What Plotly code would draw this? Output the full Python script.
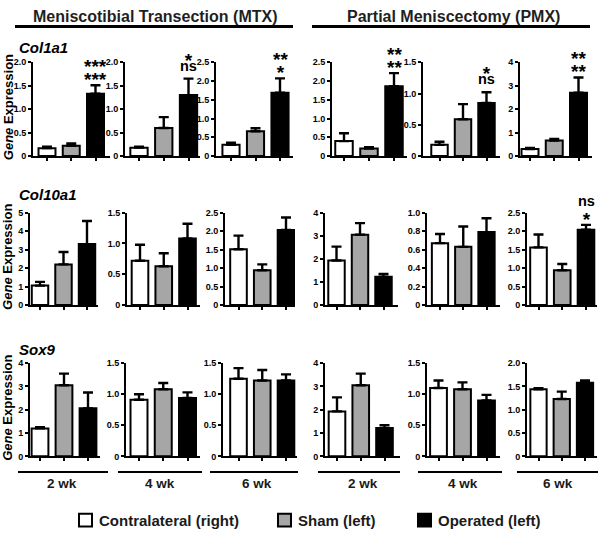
import plotly.graph_objects as go

groups = ["Contralateral (right)", "Sham (left)", "Operated (left)"]
weeks = ["2 wk", "4 wk", "6 wk", "2 wk", "4 wk", "6 wk"]
procedures = ["Meniscotibial Transection (MTX)", "Partial Meniscectomy (PMX)"]
genes = ["Col1a1", "Col10a1", "Sox9"]

# panel order: MTX 2/4/6 wk, PMX 2/4/6 wk ; values per group (contra, sham, operated)
col1a1_mean = [[0.17, 0.22, 1.33], [0.18, 0.60, 1.30], [0.30, 0.66, 1.69],
               [0.40, 0.20, 1.86], [0.18, 0.59, 0.85], [0.30, 0.66, 2.70]]
col1a1_err = [[0.03, 0.05, 0.18], [0.02, 0.23, 0.35], [0.06, 0.08, 0.38],
              [0.21, 0.04, 0.35], [0.05, 0.24, 0.17], [0.05, 0.07, 0.65]]
col10a1_mean = [[1.05, 2.20, 3.30], [0.72, 0.63, 1.08], [1.51, 0.94, 2.03],
                [1.93, 3.05, 1.22], [0.67, 0.63, 0.79], [1.56, 0.94, 2.04]]
col10a1_err = [[0.20, 0.67, 1.25], [0.26, 0.21, 0.24], [0.37, 0.16, 0.34],
               [0.60, 0.50, 0.12], [0.10, 0.22, 0.15], [0.35, 0.17, 0.13]]
sox9_mean = [[1.20, 3.05, 2.06], [0.91, 1.08, 0.94], [1.25, 1.22, 1.22],
             [1.93, 3.05, 1.22], [1.10, 1.08, 0.90], [1.44, 1.23, 1.58]]
sox9_err = [[0.05, 0.50, 0.68], [0.09, 0.10, 0.09], [0.17, 0.17, 0.10],
            [0.60, 0.50, 0.12], [0.12, 0.11, 0.09], [0.02, 0.16, 0.05]]

col1a1_ticks = [["0", "0.5", "1.0", "1.5", "2.0"], ["0", "0.5", "1.0", "1.5", "2.0"],
                ["0", "0.5", "1.0", "1.5", "2.0", "2.5"], ["0", "0.5", "1.0", "1.5", "2.0", "2.5"],
                ["0", "0.5", "1.0", "1.5"], ["0", "1", "2", "3", "4"]]
col10a1_ticks = [["0", "1", "2", "3", "4", "5"], ["0", "0.5", "1.0", "1.5"],
                 ["0", "0.5", "1.0", "1.5", "2.0", "2.5"], ["0", "1", "2", "3", "4"],
                 ["0", "0.2", "0.4", "0.6", "0.8", "1.0"], ["0", "0.5", "1.0", "1.5", "2.0", "2.5"]]
sox9_ticks = [["0", "1", "2", "3", "4"], ["0", "0.5", "1.0", "1.5"], ["0", "0.5", "1.0", "1.5"],
              ["0", "1", "2", "3", "4"], ["0", "0.5", "1.0", "1.5"], ["0", "0.5", "1.0", "1.5", "2.0"]]

# significance marks above the operated bar (upper line, lower line)
col1a1_sig = [["***", "***"], ["*", "ns"], ["**", "*"], ["**", "**"], ["*", "ns"], ["**", "**"]]
col10a1_sig = [None, None, None, None, None, ["ns", "*"]]
sox9_sig = [None, None, None, None, None, None]

means = [col1a1_mean, col10a1_mean, sox9_mean]
errs = [col1a1_err, col10a1_err, sox9_err]
ticks = [col1a1_ticks, col10a1_ticks, sox9_ticks]
sigs = [col1a1_sig, col10a1_sig, sox9_sig]

# ---------------- layout geometry (pixels) ----------------
W, H = 600, 533
FONT = "Liberation Sans"
bar_colors = ["white", "#a6a6a6", "black"]
STAR_PX = 19
NS_PX = 14.5


def fx(px):
    return px / W


def fy(py):
    return 1 - py / H


row_top = [58.3, 211.7, 365]
row_bot = [154, 305.7, 460]
# (axis start, axis end, first bar centre, last bar centre)
geom = [
    [(33, 110, 47, 95.5), (125, 200, 139, 188.5), (216, 293, 231, 280),
     (332, 407, 344, 394), (423, 500, 439.5, 486.5), (520, 592, 530, 578.5)],
    [(30, 98, 40, 87), (127, 200, 140, 187.5), (225, 295, 238.5, 286),
     (325, 398, 336.5, 383.5), (427, 500, 440, 486.5), (527, 597, 538.5, 586)],
    [(30, 100, 40, 88), (126, 200, 139, 187.5), (223, 297, 238.5, 286),
     (325, 400, 337, 384.5), (427, 500, 438.5, 486.5), (527, 597, 538.5, 585)],
]


def sig_span(txt):
    size = STAR_PX if txt.startswith("*") else NS_PX
    return f"<span style='font-size:{size}px'>{txt}</span>"


fig = go.Figure()
layout = {}
annotations = []
shapes = []

for r in range(3):
    for c in range(6):
        n = r * 6 + c + 1
        xa = "x" if n == 1 else f"x{n}"
        ya = "y" if n == 1 else f"y{n}"
        a, b, c0, c2 = geom[r][c]
        p = (c2 - c0) / 2
        lo = -(c0 - a) / p
        hi = 2 + (b - c2) / p
        tl = ticks[r][c]
        tv = [float(t) for t in tl]
        m = means[r][c]
        e = errs[r][c]
        fig.add_trace(go.Bar(
            x=[0, 1, 2], y=m, xaxis=xa, yaxis=ya, width=0.7,
            marker=dict(color=bar_colors, line=dict(color="black", width=2)),
            error_y=dict(type="data", symmetric=False, array=e, arrayminus=[0, 0, 0],
                         color="black", thickness=2.4, width=5),
            showlegend=False, hoverinfo="y",
        ))
        layout["xaxis" if n == 1 else f"xaxis{n}"] = dict(
            domain=[fx(a), fx(b)], anchor=ya, range=[lo, hi],
            showline=True, linecolor="black", linewidth=2,
            ticks="outside", ticklen=3, tickwidth=1.5, tickcolor="black",
            tickvals=[0, 1, 2], showticklabels=False, showgrid=False, zeroline=False,
            fixedrange=True,
        )
        layout["yaxis" if n == 1 else f"yaxis{n}"] = dict(
            domain=[fy(row_bot[r]), fy(row_top[r])], anchor=xa, range=[0, tv[-1]],
            showline=True, linecolor="black", linewidth=2,
            ticks="outside", ticklen=3, tickwidth=1.5, tickcolor="black",
            tickvals=tv, ticktext=tl, showgrid=False, zeroline=False,
            tickfont=dict(family=FONT, size=9, color="black", weight="bold"),
            fixedrange=True,
        )
        s = sigs[r][c]
        if s:
            ytop = m[2] + e[2]
            up_star = s[0].startswith("*")
            low_star = s[1].startswith("*")
            # base font size sets the line spacing (1.3 em) between the two marks
            if up_star and low_star:
                base = 10
            elif up_star:
                base = 3.3
            else:
                base = 15.5
            shift = -7 if low_star else 3
            annotations.append(dict(
                x=2, y=ytop, xref=xa, yref=ya,
                text=sig_span(s[0]) + "<br>" + sig_span(s[1]),
                showarrow=False, xanchor="center", yanchor="bottom", yshift=shift,
                font=dict(family=FONT, size=base, color="black", weight="bold"),
            ))

# row labels and y titles
gene_y = [43, 193, 351]
for r in range(3):
    annotations.append(dict(
        x=fx(17), y=fy(gene_y[r]), xref="paper", yref="paper", text=genes[r],
        showarrow=False, xanchor="left", yanchor="middle",
        font=dict(family=FONT, size=15, color="black", weight="bold", style="italic"),
    ))
    annotations.append(dict(
        x=fx(8), y=fy((row_top[r] + row_bot[r]) / 2 - 2), xref="paper", yref="paper",
        text="<i>Gene</i> Expression", textangle=-90, showarrow=False,
        xanchor="center", yanchor="middle",
        font=dict(family=FONT, size=13, color="black", weight="bold"),
    ))

# headers
header_x = [155, 453]
header_line = [(15, 293), (312, 590)]
for i in range(2):
    annotations.append(dict(
        x=fx(header_x[i]), y=fy(12), xref="paper", yref="paper", text=procedures[i],
        showarrow=False, xanchor="center", yanchor="middle",
        font=dict(family=FONT, size=16, color="#1f1f1f", weight="bold"),
    ))
    x0, x1 = header_line[i]
    shapes.append(dict(type="line", xref="paper", yref="paper", x0=fx(x0), x1=fx(x1),
                       y0=fy(22), y1=fy(22), line=dict(color="black", width=3)))

# bottom week bars and labels
week_lines = [(18, 108), (118, 202), (210, 298), (318, 400), (418, 502), (517, 598)]
week_x = [62, 160, 257, 363, 463, 558]
for i in range(6):
    x0, x1 = week_lines[i]
    shapes.append(dict(type="line", xref="paper", yref="paper", x0=fx(x0), x1=fx(x1),
                       y0=fy(476), y1=fy(476), line=dict(color="black", width=2)))
    annotations.append(dict(
        x=fx(week_x[i]), y=fy(488), xref="paper", yref="paper", text=weeks[i],
        showarrow=False, xanchor="center", yanchor="middle",
        font=dict(family=FONT, size=13.5, color="#1a1a1a", weight="bold"),
    ))

# legend
leg_sq = [78, 277, 417]
for i in range(3):
    x0 = leg_sq[i]
    shapes.append(dict(type="rect", xref="paper", yref="paper", x0=fx(x0 + 1), x1=fx(x0 + 14),
                       y0=fy(531.5), y1=fy(518.5), fillcolor=bar_colors[i],
                       line=dict(color="black", width=2)))
    annotations.append(dict(
        x=fx(x0 + 19), y=fy(525), xref="paper", yref="paper", text=groups[i],
        showarrow=False, xanchor="left", yanchor="middle",
        font=dict(family=FONT, size=15, color="#1a1a1a", weight="bold"),
    ))

fig.update_layout(
    width=W, height=H, margin=dict(l=0, r=0, t=0, b=0),
    paper_bgcolor="white", plot_bgcolor="white",
    bargap=0.3, showlegend=False,
    annotations=annotations, shapes=shapes,
    **layout,
)

fig.write_html(
    "out.html",
    config={"displayModeBar": False},
    post_script="document.body.style.margin='0';document.body.style.padding='0';"
                "document.body.style.overflow='hidden';",
)
